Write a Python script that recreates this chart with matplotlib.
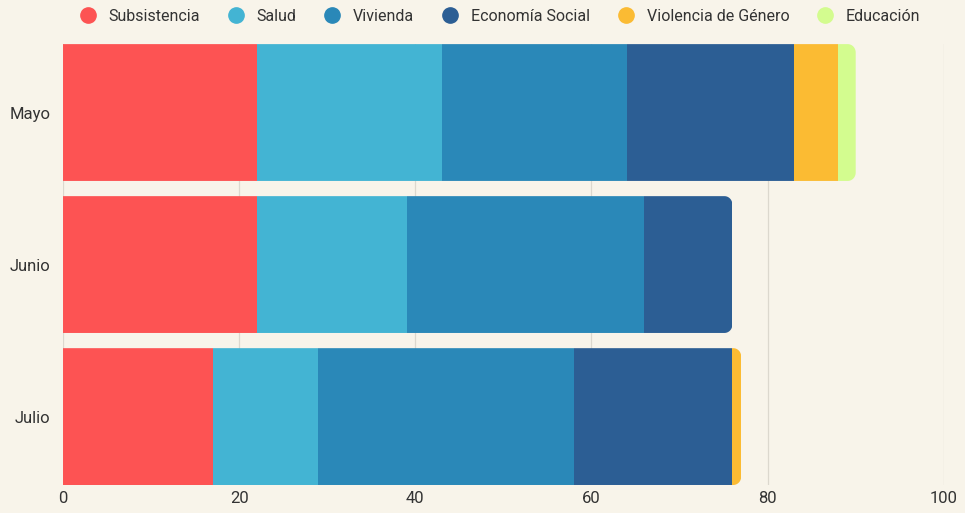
import matplotlib
matplotlib.use("Agg")
import matplotlib.pyplot as plt
import numpy as np
from matplotlib.path import Path
from matplotlib.lines import Line2D

plt.rcParams['font.family'] = ['Roboto', 'DejaVu Sans']

months = ["Mayo", "Junio", "Julio"]
categories = ["Subsistencia", "Salud", "Vivienda", "Economía Social",
              "Violencia de Género", "Educación"]
subsistencia = [22, 22, 17]
salud = [21, 17, 12]
vivienda = [21, 27, 29]
economia_social = [19, 10, 18]
violencia_genero = [5, 0, 1]
educacion = [2, 0, 0]
series = [subsistencia, salud, vivienda, economia_social, violencia_genero, educacion]
colors = ["#fd5353", "#43b4d3", "#2a88b8", "#2c5e94", "#fbbb33", "#d3fc8f"]
x_ticks = [0, 20, 40, 60, 80, 100]

bg = "#f8f4ea"
fig = plt.figure(figsize=(9.65, 5.13), dpi=100, facecolor=bg)
ax = fig.add_axes([0.0653, 0.0546, 0.9127, 0.8594], facecolor=bg)

ypos = np.arange(len(months))
height = 0.9
lefts = np.zeros(len(months))
patches_by_row = [[] for _ in months]
for vals, col in zip(series, colors):
    bars = ax.barh(ypos, vals, left=lefts, height=height, color=col,
                   edgecolor="none", zorder=3)
    for i, b in enumerate(bars):
        patches_by_row[i].append(b)
    lefts = lefts + np.array(vals)

# Round the right end of each stacked bar with a clip path
rx, ry = 0.9, 0.055
for i, total in enumerate(lefts):
    y0, y1 = ypos[i] - height / 2, ypos[i] + height / 2
    verts = [(0, y0)]
    cx, cy = total - rx, y0 + ry
    for a in np.linspace(-np.pi / 2, 0, 12):
        verts.append((cx + rx * np.cos(a), cy + ry * np.sin(a)))
    cy = y1 - ry
    for a in np.linspace(0, np.pi / 2, 12):
        verts.append((cx + rx * np.cos(a), cy + ry * np.sin(a)))
    verts.append((0, y1))
    verts.append((0, y0))
    clip = Path(verts, closed=True)
    for p in patches_by_row[i]:
        p.set_clip_path(clip, ax.transData)

ax.set_xlim(0, 100)
ax.set_ylim(len(months) - 1 + 0.45, -0.45)
ax.set_yticks(ypos)
ax.set_yticklabels(months)
ax.set_xticks(x_ticks)
ax.tick_params(length=0, labelsize=12, colors="#333333")
ax.tick_params(axis="y", pad=9)
ax.tick_params(axis="x", pad=4)
ax.grid(axis="x", color="#dcd8ce", linewidth=0.9, zorder=0)
ax.grid(axis="y", visible=False)
for s in ax.spines.values():
    s.set_visible(False)

handles = [Line2D([0], [0], marker="o", linestyle="none", markersize=11,
                  markerfacecolor=c, markeredgecolor=c) for c in colors]
fig.legend(handles, categories, loc="center", bbox_to_anchor=(0.514, 0.968),
           ncol=6, frameon=False, fontsize=11.5, handletextpad=0.3,
           columnspacing=1.25, labelcolor="#333333")

fig.savefig("out.png", dpi=100, facecolor=bg)
